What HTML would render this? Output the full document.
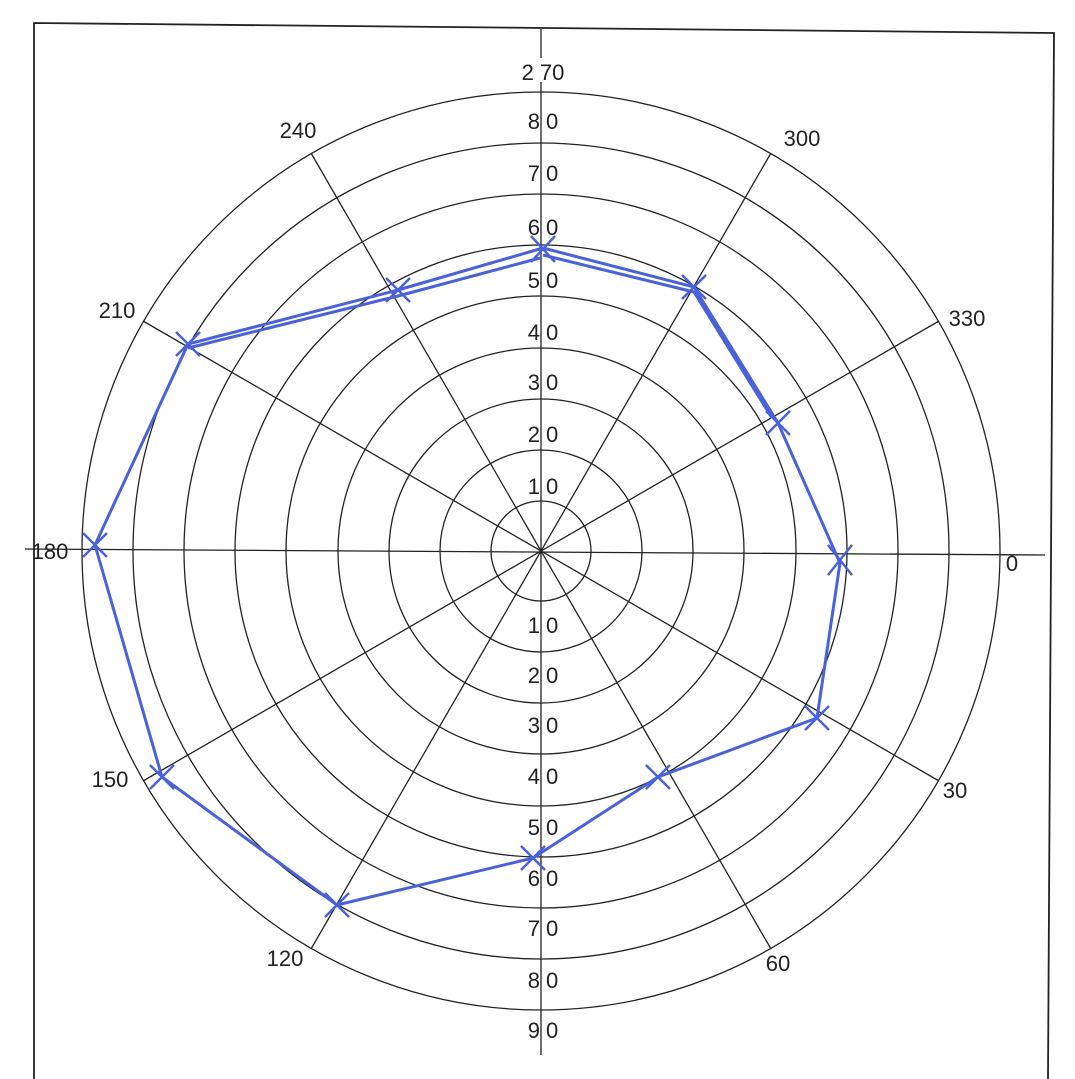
<!DOCTYPE html>
<html><head><meta charset="utf-8"><style>html,body{margin:0;padding:0;background:#fff}svg{display:block}</style></head>
<body>
<svg width="1075" height="1079" viewBox="0 0 1075 1079" xmlns="http://www.w3.org/2000/svg">
<rect width="1075" height="1079" fill="#fff"/>
<g stroke="#222" fill="none" stroke-width="1.8">
<polyline points="34,1079 34,23 1054,33 1048,1079"/>
</g>
<g stroke="#222" fill="none" stroke-width="1.3">
<circle cx="541" cy="551" r="50"/>
<circle cx="541" cy="551" r="101"/>
<circle cx="541" cy="551" r="152"/>
<circle cx="541" cy="551" r="203"/>
<circle cx="541" cy="551" r="255"/>
<circle cx="541" cy="551" r="306"/>
<circle cx="541" cy="551" r="357"/>
<circle cx="541" cy="551" r="408"/>
<circle cx="541" cy="551" r="459"/>
<line x1="541" y1="29" x2="541" y2="1055"/>
<line x1="25" y1="549" x2="1045" y2="555"/>
<line x1="143" y1="321" x2="939" y2="781"/>
<line x1="143" y1="781" x2="939" y2="321"/>
<line x1="311" y1="153" x2="771" y2="949"/>
<line x1="311" y1="949" x2="771" y2="153"/>
</g>
<g font-family="Liberation Sans, sans-serif" font-size="22" fill="#222" text-anchor="middle">
<rect x="525" y="58" width="34" height="24" fill="#fff"/>
<text x="543" y="80">2 70</text>
<text x="543" y="129">8 0</text>
<text x="543" y="181">7 0</text>
<text x="543" y="235">6 0</text>
<text x="543" y="288">5 0</text>
<text x="543" y="340">4 0</text>
<text x="543" y="390">3 0</text>
<text x="543" y="442">2 0</text>
<text x="543" y="494">1 0</text>
<text x="543" y="633">1 0</text>
<text x="543" y="683">2 0</text>
<text x="543" y="733">3 0</text>
<text x="543" y="784">4 0</text>
<text x="543" y="835">5 0</text>
<text x="543" y="886">6 0</text>
<text x="543" y="936">7 0</text>
<text x="543" y="988">8 0</text>
<text x="543" y="1038">9 0</text>
<text x="298" y="138">240</text>
<text x="802" y="146">300</text>
<text x="967" y="326">330</text>
<text x="117" y="318">210</text>
<text x="50" y="559">180</text>
<text x="1012" y="571">0</text>
<text x="955" y="798">30</text>
<text x="110" y="787">150</text>
<text x="285" y="966">120</text>
<text x="778" y="971">60</text>
</g>
<g stroke="#4a62d8" stroke-width="3" fill="none" stroke-linejoin="round">
<polygon points="543,248 694,287 778,423 840,563 817,718 658,777 533,858 337,905 162,777 95,545 188,344 398,290"/>
<polyline points="543,255 694,292 772,418"/>
<polyline points="188,348 398,296 540,258"/>
</g>
<g stroke="#4a62d8" stroke-width="2.5">
<path d="M531,236 555,262 M555,236 531,262"/>
<path d="M682,275 706,299 M706,275 682,299"/>
<path d="M766,411 790,435 M790,411 766,435"/>
<path d="M828,545 852,575 M852,545 828,575"/>
<path d="M805,706 829,730 M829,706 805,730"/>
<path d="M646,765 670,789 M670,765 646,789"/>
<path d="M521,846 545,870 M545,846 521,870"/>
<path d="M325,893 349,917 M349,893 325,917"/>
<path d="M150,765 174,789 M174,765 150,789"/>
<path d="M83,533 107,557 M107,533 83,557"/>
<path d="M176,332 200,356 M200,332 176,356"/>
<path d="M386,278 410,302 M410,278 386,302"/>
</g>
</svg>
</body></html>
